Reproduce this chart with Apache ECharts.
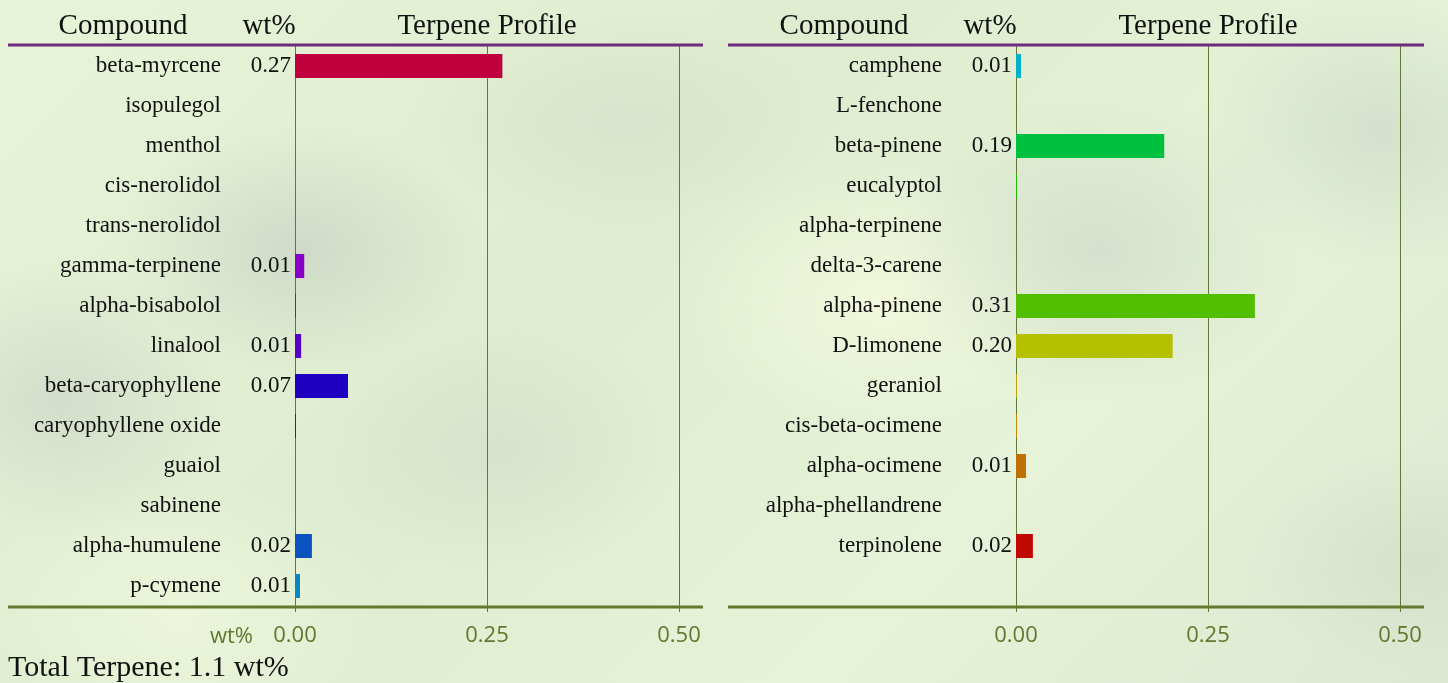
<!DOCTYPE html>
<html>
<head>
<meta charset="utf-8">
<script src="https://cdn.jsdelivr.net/npm/echarts@6/dist/echarts.min.js"></script>
<style>
    html, body {
        margin: 0;
        padding: 0;
        width: 1448px;
        height: 683px;
        overflow: hidden;
    }
    .page-bg {
        position: absolute;
        left: 0;
        top: 0;
        width: 1448px;
        height: 683px;
        background:
            radial-gradient(ellipse 260px 180px at 300px 250px, rgba(200,212,196,0.75), rgba(200,212,196,0) 70%),
            radial-gradient(ellipse 240px 200px at 60px 400px, rgba(205,214,200,0.7), rgba(205,214,200,0) 70%),
            radial-gradient(ellipse 300px 160px at 620px 120px, rgba(210,222,200,0.6), rgba(210,222,200,0) 70%),
            radial-gradient(ellipse 300px 220px at 1100px 250px, rgba(206,218,200,0.7), rgba(206,218,200,0) 70%),
            radial-gradient(ellipse 260px 200px at 1380px 130px, rgba(200,212,196,0.6), rgba(200,212,196,0) 70%),
            radial-gradient(ellipse 260px 160px at 1420px 560px, rgba(208,218,200,0.6), rgba(208,218,200,0) 70%),
            radial-gradient(ellipse 300px 200px at 880px 300px, rgba(245,250,222,0.8), rgba(245,250,222,0) 70%),
            radial-gradient(ellipse 300px 200px at 180px 620px, rgba(240,248,222,0.8), rgba(240,248,222,0) 70%),
            radial-gradient(ellipse 260px 180px at 500px 450px, rgba(208,220,200,0.6), rgba(208,220,200,0) 70%),
            linear-gradient(135deg, #e8f4d8 0%, #dfeccf 40%, #e6f3d8 70%, #dce8d0 100%);
    }
    #terpeneChart {
        position: absolute;
        left: 0;
        top: 0;
        width: 1448px;
        height: 683px;
    }
</style>
</head>
<body>
<div class="page-bg"></div>
<div id="terpeneChart"></div>
<script>
    // left table
    var leftNames = ['beta-myrcene', 'isopulegol', 'menthol', 'cis-nerolidol', 'trans-nerolidol',
        'gamma-terpinene', 'alpha-bisabolol', 'linalool', 'beta-caryophyllene', 'caryophyllene oxide',
        'guaiol', 'sabinene', 'alpha-humulene', 'p-cymene'];
    var leftValues = [0.27, 0, 0, 0, 0, 0.012, 0.001, 0.008, 0.069, 0.001, 0, 0, 0.022, 0.0065];

    // right table
    var rightNames = ['camphene', 'L-fenchone', 'beta-pinene', 'eucalyptol', 'alpha-terpinene',
        'delta-3-carene', 'alpha-pinene', 'D-limonene', 'geraniol', 'cis-beta-ocimene',
        'alpha-ocimene', 'alpha-phellandrene', 'terpinolene'];
    var rightValues = [0.0065, 0, 0.193, 0.001, 0, 0, 0.311, 0.204, 0.001, 0.001, 0.013, 0, 0.022];

    var axisTicks = [0, 0.25, 0.5];
    var totalTerpene = '1.1';

    var leftColors = ['#c0003c', '#b00064', '#a8008a', '#9800a8', '#9000bc', '#8800c8', '#7000c8',
        '#5800c8', '#2000c0', '#0010c0', '#0028c0', '#0040c0', '#0a52c0', '#0888c8'];
    var rightColors = ['#00b0c8', '#00c0a0', '#00c040', '#10d000', '#30c000', '#48c000', '#52be00',
        '#b4c000', '#d8b000', '#d89000', '#c07000', '#c04000', '#c00800'];

    var serif = '"Liberation Serif", "Times New Roman", serif';
    var sans = '"Open Sans", sans-serif';
    var olive = '#62792f';
    var tickColor = '#61782f';

    function makeXAxis(gridIndex) {
        return {
            type: 'value',
            gridIndex: gridIndex,
            min: axisTicks[0],
            max: axisTicks[axisTicks.length - 1],
            interval: axisTicks[1] - axisTicks[0],
            axisLine: {show: false},
            axisTick: {show: true, length: 6, lineStyle: {color: olive, width: 1}},
            splitLine: {show: true, lineStyle: {color: olive, width: 1}},
            axisLabel: {
                color: tickColor,
                fontFamily: sans,
                fontSize: 22,
                margin: 19,
                formatter: function (v) { return v.toFixed(2); }
            }
        };
    }

    function makeYAxis(gridIndex, names) {
        return {
            type: 'category',
            gridIndex: gridIndex,
            inverse: true,
            data: names,
            axisLine: {show: false},
            axisTick: {show: false},
            axisLabel: {
                color: '#111',
                fontFamily: serif,
                fontSize: 23,
                margin: 74
            }
        };
    }

    function makeSeries(idx, values, colors) {
        return {
            type: 'bar',
            xAxisIndex: idx,
            yAxisIndex: idx,
            barWidth: 24,
            data: values,
            itemStyle: {
                color: function (p) { return colors[p.dataIndex]; }
            },
            label: {
                show: true,
                position: 'left',
                distance: 4,
                color: '#111',
                fontFamily: serif,
                fontSize: 23,
                formatter: function (p) { return p.value >= 0.005 ? p.value.toFixed(2) : ''; }
            }
        };
    }

    function rule(x1, x2, y, color) {
        return {
            type: 'line', z: 10,
            shape: {x1: x1, y1: y, x2: x2, y2: y},
            style: {stroke: color, lineWidth: 3}
        };
    }

    var myChart = echarts.init(document.getElementById('terpeneChart'));
    myChart.setOption({
        animation: false,
        grid: [
            {left: 295, top: 46, width: 384, height: 560},
            {left: 1016, top: 46, width: 384, height: 560}
        ],
        xAxis: [makeXAxis(0), makeXAxis(1)],
        yAxis: [makeYAxis(0, leftNames), makeYAxis(1, rightNames.concat(['']))],
        series: [
            makeSeries(0, leftValues, leftColors),
            makeSeries(1, rightValues, rightColors)
        ],
        graphic: [
            {type: 'text', x: 123, y: 12, style: {text: 'Compound', fill: '#111', font: '29px ' + serif, align: 'center'}},
            {type: 'text', x: 269, y: 12, style: {text: 'wt%', fill: '#111', font: '29px ' + serif, align: 'center'}},
            {type: 'text', x: 487, y: 12, style: {text: 'Terpene Profile', fill: '#111', font: '29px ' + serif, align: 'center'}},
            {type: 'text', x: 844, y: 12, style: {text: 'Compound', fill: '#111', font: '29px ' + serif, align: 'center'}},
            {type: 'text', x: 990, y: 12, style: {text: 'wt%', fill: '#111', font: '29px ' + serif, align: 'center'}},
            {type: 'text', x: 1208, y: 12, style: {text: 'Terpene Profile', fill: '#111', font: '29px ' + serif, align: 'center'}},
            rule(8, 703, 45, '#6e2a7e'),
            rule(728, 1424, 45, '#6e2a7e'),
            rule(8, 703, 607, olive),
            rule(728, 1424, 607, olive),
            {type: 'text', x: 253, y: 637, style: {text: 'wt%', fill: tickColor, font: '22px ' + sans, align: 'right', verticalAlign: 'middle'}},
            {type: 'text', x: 8, y: 668, style: {text: 'Total Terpene: ' + totalTerpene + ' wt%', fill: '#111', font: '30px ' + serif, align: 'left', verticalAlign: 'middle'}}
        ]
    });
</script>
</body>
</html>
